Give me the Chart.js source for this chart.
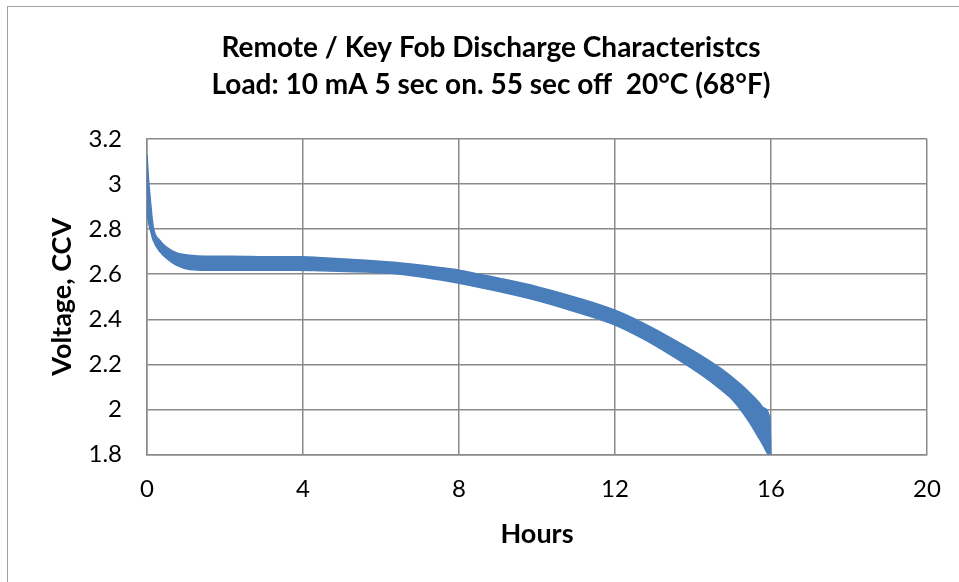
<!DOCTYPE html>
<html>
<head>
<meta charset="utf-8">
<script src="https://cdn.jsdelivr.net/npm/chart.js@4"></script>
<style>
  html, body { margin: 0; padding: 0; background: #fff; }
  #wrap { position: relative; width: 959px; height: 582px; overflow: hidden; }
  #frame { position: absolute; left: 7px; top: 6px; width: 1200px; height: 1200px;
           border-left: 1.5px solid #a0a0a0; border-top: 1.5px solid #a0a0a0; }
  #chart { position: absolute; left: 0; top: 0; }
</style>
</head>
<body>
<div id="wrap">
  <div id="frame"></div>
  <!-- the chart object is wider than the visible crop, so the title centres like the original -->
  <canvas id="chart" width="982" height="582"></canvas>
</div>
<script>
// upper edge of the pulsed-load band (hours, volts)
const hoursUpper = [0, 0.04, 0.08, 0.16, 0.33, 0.5, 0.75, 1.1, 1.5, 2.2, 3, 3.9, 4.5, 5.6, 6.5, 7.5, 8, 9, 10, 11, 12, 12.7, 13.3, 14.2, 14.7, 15, 15.4, 15.7, 15.8, 15.97, 16];
const voltsUpper = [3.13, 3.02, 2.94, 2.81, 2.75, 2.72, 2.695, 2.684, 2.68, 2.68, 2.678, 2.677, 2.673, 2.662, 2.65, 2.63, 2.618, 2.583, 2.545, 2.497, 2.44, 2.385, 2.33, 2.24, 2.183, 2.143, 2.083, 2.03, 2.008, 1.96, 1.79];

// lower edge of the band
const hoursLower = [0, 0.04, 0.08, 0.16, 0.33, 0.5, 0.75, 1.1, 1.5, 2.2, 3, 3.9, 4.5, 5.6, 6.5, 7.5, 8, 9, 10, 11, 12, 12.7, 13.3, 14.2, 14.7, 15, 15.4, 15.7, 15.8, 15.93, 16];
const voltsLower = [2.88, 2.83, 2.80, 2.751, 2.70, 2.671, 2.64, 2.621, 2.618, 2.618, 2.618, 2.618, 2.615, 2.61, 2.60, 2.575, 2.56, 2.524, 2.483, 2.432, 2.374, 2.315, 2.255, 2.155, 2.09, 2.045, 1.955, 1.87, 1.84, 1.80, 1.79];

const xTicks = [0, 4, 8, 12, 16, 20];
const yTicks = [1.8, 2, 2.2, 2.4, 2.6, 2.8, 3, 3.2];

const titleLines = ['Remote / Key Fob Discharge Characteristcs', 'Load: 10 mA 5 sec on. 55 sec off  20°C (68°F)'];

const BLUE = '#4a7ebb';
const GRID = '#8a8a8a';
const FONT = 'Lato';

const toPoints = (xs, ys) => xs.map((x, i) => ({ x: x, y: ys[i] }));

new Chart(document.getElementById('chart'), {
  type: 'scatter',
  data: {
    datasets: [
      {
        label: 'upper',
        data: toPoints(hoursUpper, voltsUpper),
        showLine: true,
        borderColor: BLUE,
        backgroundColor: BLUE,
        borderWidth: 1.5,
        pointRadius: 0,
        cubicInterpolationMode: 'monotone',
        fill: '+1',
      },
      {
        label: 'lower',
        data: toPoints(hoursLower, voltsLower),
        showLine: true,
        borderColor: BLUE,
        backgroundColor: BLUE,
        borderWidth: 1.5,
        pointRadius: 0,
        cubicInterpolationMode: 'monotone',
        fill: false,
      },
    ],
  },
  options: {
    responsive: false,
    animation: false,
    layout: { padding: 0 },
    plugins: {
      legend: { display: false },
      tooltip: { enabled: false },
      title: {
        display: true,
        text: titleLines,
        color: '#000',
        font: { family: FONT, size: 28, weight: 'bold', lineHeight: 37 / 28 },
        padding: { top: 29, bottom: 36 },
      },
    },
    scales: {
      x: {
        type: 'linear',
        min: 0,
        max: 20,
        afterBuildTicks: (s) => { s.ticks = xTicks.map((v) => ({ value: v })); },
        afterFit: (s) => { s.height = 127.5; },
        grid: { color: GRID, lineWidth: 1.5, drawTicks: false },
        border: { color: GRID, width: 1.5 },
        ticks: { color: '#000', padding: 20.5, font: { family: FONT, size: 24 } },
        title: {
          display: true,
          text: 'Hours',
          color: '#000',
          font: { family: FONT, size: 27, weight: 'bold' },
          padding: { top: 0, bottom: 32 },
        },
      },
      y: {
        type: 'linear',
        min: 1.8,
        max: 3.2,
        afterBuildTicks: (s) => { s.ticks = yTicks.map((v) => ({ value: v })); },
        afterFit: (s) => { s.width = 147; },
        grid: { color: GRID, lineWidth: 1.5, drawTicks: false },
        border: { color: GRID, width: 1.5 },
        ticks: {
          color: '#000',
          padding: 25,
          font: { family: FONT, size: 24 },
          callback: (v) => String(Number(v.toFixed(1))),
        },
        title: {
          display: true,
          text: 'Voltage, CCV',
          color: '#000',
          font: { family: FONT, size: 27, weight: 'bold' },
          padding: { top: 46, bottom: 0 },
        },
      },
      // empty spacer on the right: keeps the plot at the original width
      spacer: {
        type: 'linear',
        position: 'right',
        min: 1.8,
        max: 3.2,
        afterFit: (s) => { s.width = 55; },
        grid: { display: false },
        border: { display: false },
        ticks: { display: false },
      },
    },
  },
});
</script>
</body>
</html>
